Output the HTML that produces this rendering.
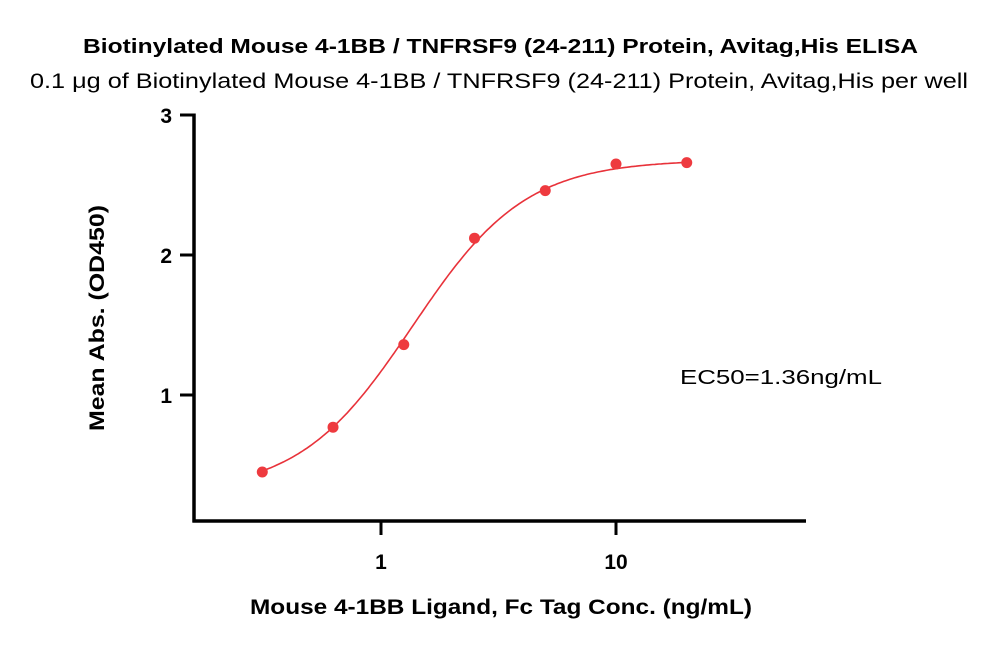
<!DOCTYPE html>
<html><head><meta charset="utf-8"><style>
body{margin:0;background:#fff;}
svg text{font-family:"Liberation Sans",sans-serif;}
</style></head><body>
<svg id="chart" width="1000" height="651" viewBox="0 0 1000 651" xmlns="http://www.w3.org/2000/svg">
<text x="83" y="53" font-size="20" font-weight="bold" fill="#000" textLength="835" lengthAdjust="spacingAndGlyphs">Biotinylated Mouse 4-1BB / TNFRSF9 (24-211) Protein, Avitag,His ELISA</text>
<text x="30" y="88" font-size="21" fill="#000" textLength="938" lengthAdjust="spacingAndGlyphs">0.1 μg of Biotinylated Mouse 4-1BB / TNFRSF9 (24-211) Protein, Avitag,His per well</text>
<g id="axes"></g>
<g id="marks"></g>
<text x="250" y="614" font-size="21" font-weight="bold" textLength="502" lengthAdjust="spacingAndGlyphs">Mouse 4-1BB Ligand, Fc Tag Conc. (ng/mL)</text>
<text transform="translate(104,431) rotate(-90)" font-size="21" font-weight="bold" textLength="226" lengthAdjust="spacingAndGlyphs">Mean Abs. (OD450)</text>
<text x="680" y="384" font-size="20" textLength="202" lengthAdjust="spacingAndGlyphs">EC50=1.36ng/mL</text>
</svg>
<script>
const conc = [0.3125, 0.625, 1.25, 2.5, 5, 10, 20];
const od = [0.45, 0.77, 1.36, 2.12, 2.46, 2.65, 2.66];
const yTicks = [1, 2, 3];
const xTicks = [1, 10];
const fitParams = [0.3, 2.68, 1.36, 1.8]; // bottom, top, EC50, hill

const NS = "http://www.w3.org/2000/svg";
const xS = v => 381 + Math.log10(v) * 235;
const yS = v => 535 - v * 140;
function mk(tag, attrs, parent){const e=document.createElementNS(NS,tag);for(const k in attrs)e.setAttribute(k,attrs[k]);parent.appendChild(e);return e;}
const axes = document.getElementById('axes'), marks = document.getElementById('marks');

let l = mk('line',{x1:194,y1:113.5,x2:194,y2:522.5,stroke:'#000','stroke-width':3.5},axes);


l = mk('line',{x1:192.5,y1:521,x2:806,y2:521,stroke:'#000','stroke-width':3.5},axes);


yTicks.forEach(t=>{
  const y=yS(t);
  const tk=mk('line',{x1:180,y1:y,x2:194,y2:y,stroke:'#000','stroke-width':3},axes);
  
  
  const tx=mk('text',{x:172,y:y+8,'text-anchor':'end','font-size':21,'font-weight':'bold'},axes);
  tx.textContent=t;
  
  
});
xTicks.forEach(t=>{
  const x=xS(t);
  const tk=mk('line',{x1:x,y1:521,x2:x,y2:535,stroke:'#000','stroke-width':3},axes);
  
  
  const tx=mk('text',{x:x,y:569,'text-anchor':'middle','font-size':21,'font-weight':'bold'},axes);
  tx.textContent=t;
  
  
});
const [B,T,EC,H]=fitParams;
const f = x => B + (T-B)/(1+Math.pow(EC/x,H));
let d='';
const lo=Math.log10(conc[0]), hi=Math.log10(conc[conc.length-1]);
for(let i=0;i<=200;i++){const lx=lo+(hi-lo)*i/200;const x=Math.pow(10,lx);d+=(i?'L':'M')+xS(x).toFixed(1)+','+yS(f(x)).toFixed(1);}
const p=mk('path',{d:d,fill:'none',stroke:'#e8323a','stroke-width':1.6},marks);


conc.forEach((c,i)=>{
  const pt=mk('circle',{cx:xS(c),cy:yS(od[i]),r:5.5,fill:'#ee3a3f'},marks);
  
  
});
</script>
</body></html>
